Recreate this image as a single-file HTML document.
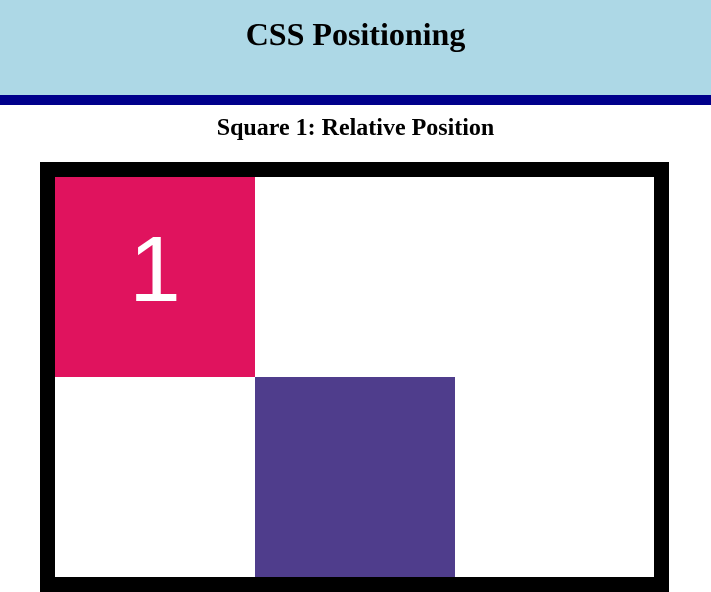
<!DOCTYPE html>
<html><head><meta charset="utf-8"><style>
html,body{margin:0;padding:0;width:711px;height:415px;overflow:hidden;background:#fff;}
.hdr{position:absolute;left:0;top:0;width:711px;height:95px;background:#add8e6;border-bottom:10px solid #00008b;}
.hdr h1{margin:0;position:absolute;left:0;right:0;top:18px;line-height:32px;text-align:center;font-weight:bold;font-size:32px;font-family:"Liberation Serif",serif;color:#000;}
h2{position:absolute;left:0;right:0;top:116px;margin:0;line-height:24px;text-align:center;font-weight:bold;font-size:24px;font-family:"Liberation Serif",serif;}
.box{position:absolute;left:40px;top:162px;width:599px;height:400px;border:15px solid #000;}
.s1{position:absolute;left:0;top:0;width:200px;height:200px;background:#e0135e;}
.s1 span{position:absolute;left:0;right:0;top:46px;text-align:center;color:#fff;font-size:93px;line-height:93px;font-family:"Liberation Sans",sans-serif;}
.s2{position:absolute;left:200px;top:200px;width:200px;height:200px;background:#4f3d8c;}
</style></head><body>
<div class="hdr"><h1>CSS Positioning</h1></div>
<h2>Square 1: Relative Position</h2>
<div class="box"><div class="s1"><span>1</span></div><div class="s2"></div></div>
</body></html>
